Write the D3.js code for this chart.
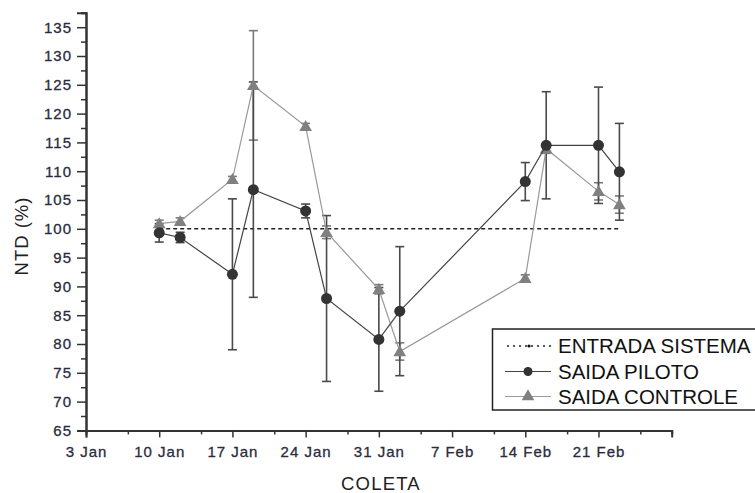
<!DOCTYPE html>
<html><head><meta charset="utf-8">
<script src="https://cdn.jsdelivr.net/npm/d3@7"></script>
<style>body{margin:0;background:#fff}svg{display:block}text{font-family:"Liberation Sans",Arial,sans-serif}</style>
</head><body>
<script>
const dates = ["2013-01-10","2013-01-12","2013-01-17","2013-01-19","2013-01-24","2013-01-26","2013-01-31","2013-02-02","2013-02-14","2013-02-16","2013-02-21","2013-02-23"];
const entrada = [100,100,100,100,100,100,100,100,100,100,100,100];
const piloto = [99.3, 98.5, 92.1, 106.8, 103.1, 87.9, 80.8, 85.7, 108.2, 114.5, 114.5, 109.9];
const pilotoErr = [1.6, 0.9, 13.1, 18.7, 1.2, 14.4, 9.0, 11.2, 3.3, 9.3, 10.1, 8.4];
const controle = [100.9, 101.3, 108.6, 124.9, 117.8, 99.4, 89.5, 78.7, 91.4, 113.9, 106.5, 104.2];
const controleErr = [0.6, 0.6, 0.5, 9.5, 0.5, 1.1, 0.8, 1.5, 0.6, 0.8, 1.5, 1.5];
const xTickDates = ["2013-01-03","2013-01-10","2013-01-17","2013-01-24","2013-01-31","2013-02-07","2013-02-14","2013-02-21"];
const xTickLabels = ["3 Jan","10 Jan","17 Jan","24 Jan","31 Jan","7 Feb","14 Feb","21 Feb"];
const yTicks = [65,70,75,80,85,90,95,100,105,110,115,120,125,130,135];
const legendLabels = ["ENTRADA SISTEMA","SAIDA PILOTO","SAIDA CONTROLE"];

const W = 755, H = 493;
const parse = d3.utcParse("%Y-%m-%d");
const svg = d3.select("body").append("svg").attr("width", W).attr("height", H);

const x = d3.scaleUtc().domain([parse("2013-01-03"), parse("2013-02-28")]).range([86, 671.7]);
const y = d3.scaleLinear().domain([65, 137.5]).range([430.4, 12.8]);

const labelColor = "#2a2c3e";
const axisColor = "#333";

// minor ticks
const xMinor = xTickDates.map(d => d3.utcDay.offset(parse(d), 4));
const yMinor = yTicks.map(v => v + 2.5);

const gx = svg.append("g").attr("transform", `translate(0,${y(65)})`);
gx.call(d3.axisBottom(x).tickValues(xMinor).tickSize(4).tickFormat(""));
gx.call(g => g.append("g").call(d3.axisBottom(x).tickValues(xTickDates.map(parse)).tickSize(7).tickFormat((d,i) => xTickLabels[i])));
gx.selectAll("path.domain").attr("stroke", axisColor).attr("stroke-width", 2);
gx.selectAll("line").attr("stroke", axisColor).attr("stroke-width", 1.5);
gx.selectAll("text").attr("fill", labelColor).attr("stroke", labelColor).attr("stroke-width", 0.3)
  .attr("font-size", 15).attr("letter-spacing", "1px")
  .attr("dy", "1.09em").attr("font-family", "Liberation Sans, Arial, sans-serif");

const gy = svg.append("g").attr("transform", `translate(${x(parse("2013-01-03"))},0)`);
gy.call(d3.axisLeft(y).tickValues(yMinor).tickSize(5).tickFormat(""));
gy.call(g => g.append("g").call(d3.axisLeft(y).tickValues(yTicks).tickSize(9).tickPadding(5).tickFormat(d3.format("d"))));
gy.selectAll("path.domain").attr("stroke", axisColor).attr("stroke-width", 2);
gy.selectAll("line").attr("stroke", axisColor).attr("stroke-width", 1.5);
gy.selectAll("text").attr("fill", labelColor).attr("stroke", labelColor).attr("stroke-width", 0.3)
  .attr("font-size", 15).attr("letter-spacing", "1px")
  .attr("font-family", "Liberation Sans, Arial, sans-serif");

// axis titles
svg.append("text").attr("x", 381).attr("y", 489.5).attr("text-anchor", "middle")
  .attr("font-size", 18.5).attr("letter-spacing", "1.2px").attr("fill", "#222").text("COLETA");
svg.append("text").attr("transform", `translate(28,236) rotate(-90)`).attr("text-anchor", "middle")
  .attr("font-size", 18.5).attr("letter-spacing", "1px").attr("fill", "#222").text("NTD (%)");

const pts = dates.map((d, i) => ({d: parse(d), e: entrada[i], p: piloto[i], pe: pilotoErr[i], c: controle[i], ce: controleErr[i]}));

// entrada dashed line
svg.append("path").datum(pts)
  .attr("d", d3.line().x(d => x(d.d)).y(d => y(d.e)))
  .attr("fill", "none").attr("stroke", "#222").attr("stroke-width", 1.6).attr("stroke-dasharray", "4,3");

function errBars(key, ekey, color) {
  const g = svg.append("g").attr("stroke", color).attr("stroke-width", 1.6);
  pts.forEach(d => {
    const cx = x(d.d), y1 = y(d[key] + d[ekey]), y0 = y(d[key] - d[ekey]);
    g.append("line").attr("x1", cx).attr("x2", cx).attr("y1", y1).attr("y2", y0);
    g.append("line").attr("x1", cx - 4.5).attr("x2", cx + 4.5).attr("y1", y1).attr("y2", y1);
    g.append("line").attr("x1", cx - 4.5).attr("x2", cx + 4.5).attr("y1", y0).attr("y2", y0);
  });
}
errBars("c", "ce", "#7a7a7a");
errBars("p", "pe", "#4a4a4a");

// controle line + triangles
svg.append("path").datum(pts)
  .attr("d", d3.line().x(d => x(d.d)).y(d => y(d.c)))
  .attr("fill", "none").attr("stroke", "#999").attr("stroke-width", 1.2);
const tri = d3.symbol().type(d3.symbolTriangle).size(70);
svg.append("g").selectAll("path").data(pts).join("path")
  .attr("d", tri).attr("transform", d => `translate(${x(d.d)},${y(d.c)+1})`)
  .attr("fill", "#808080");

// piloto line + circles
svg.append("path").datum(pts)
  .attr("d", d3.line().x(d => x(d.d)).y(d => y(d.p)))
  .attr("fill", "none").attr("stroke", "#444").attr("stroke-width", 1.2);
svg.append("g").selectAll("circle").data(pts).join("circle")
  .attr("cx", d => x(d.d)).attr("cy", d => y(d.p)).attr("r", 5.5)
  .attr("fill", "#333");

// legend
const lg = svg.append("g");
lg.append("rect").attr("x", 492.5).attr("y", 329).attr("width", 280).attr("height", 81)
  .attr("fill", "#fff").attr("stroke", "#222").attr("stroke-width", 1.5);
const rows = [346, 371.5, 396.5];
lg.append("line").attr("x1", 507).attr("x2", 551).attr("y1", rows[0]).attr("y2", rows[0])
  .attr("stroke", "#222").attr("stroke-width", 1.6).attr("stroke-dasharray", "2,4");
lg.append("circle").attr("cx", 529).attr("cy", rows[0]).attr("r", 1.6).attr("fill", "#111");
lg.append("line").attr("x1", 505).attr("x2", 551).attr("y1", rows[1]).attr("y2", rows[1]).attr("stroke", "#444").attr("stroke-width", 1.2);
lg.append("circle").attr("cx", 528).attr("cy", rows[1]).attr("r", 4.5).attr("fill", "#333");
lg.append("line").attr("x1", 505).attr("x2", 551).attr("y1", rows[2]).attr("y2", rows[2]).attr("stroke", "#999").attr("stroke-width", 1.2);
lg.append("path").attr("d", tri).attr("transform", `translate(528,${rows[2]})`).attr("fill", "#808080");
legendLabels.forEach((t, i) => {
  lg.append("text").attr("x", 558).attr("y", rows[i] + 7.3).attr("font-size", 20.5).attr("fill", "#111").text(t);
});
</script>
</body></html>
